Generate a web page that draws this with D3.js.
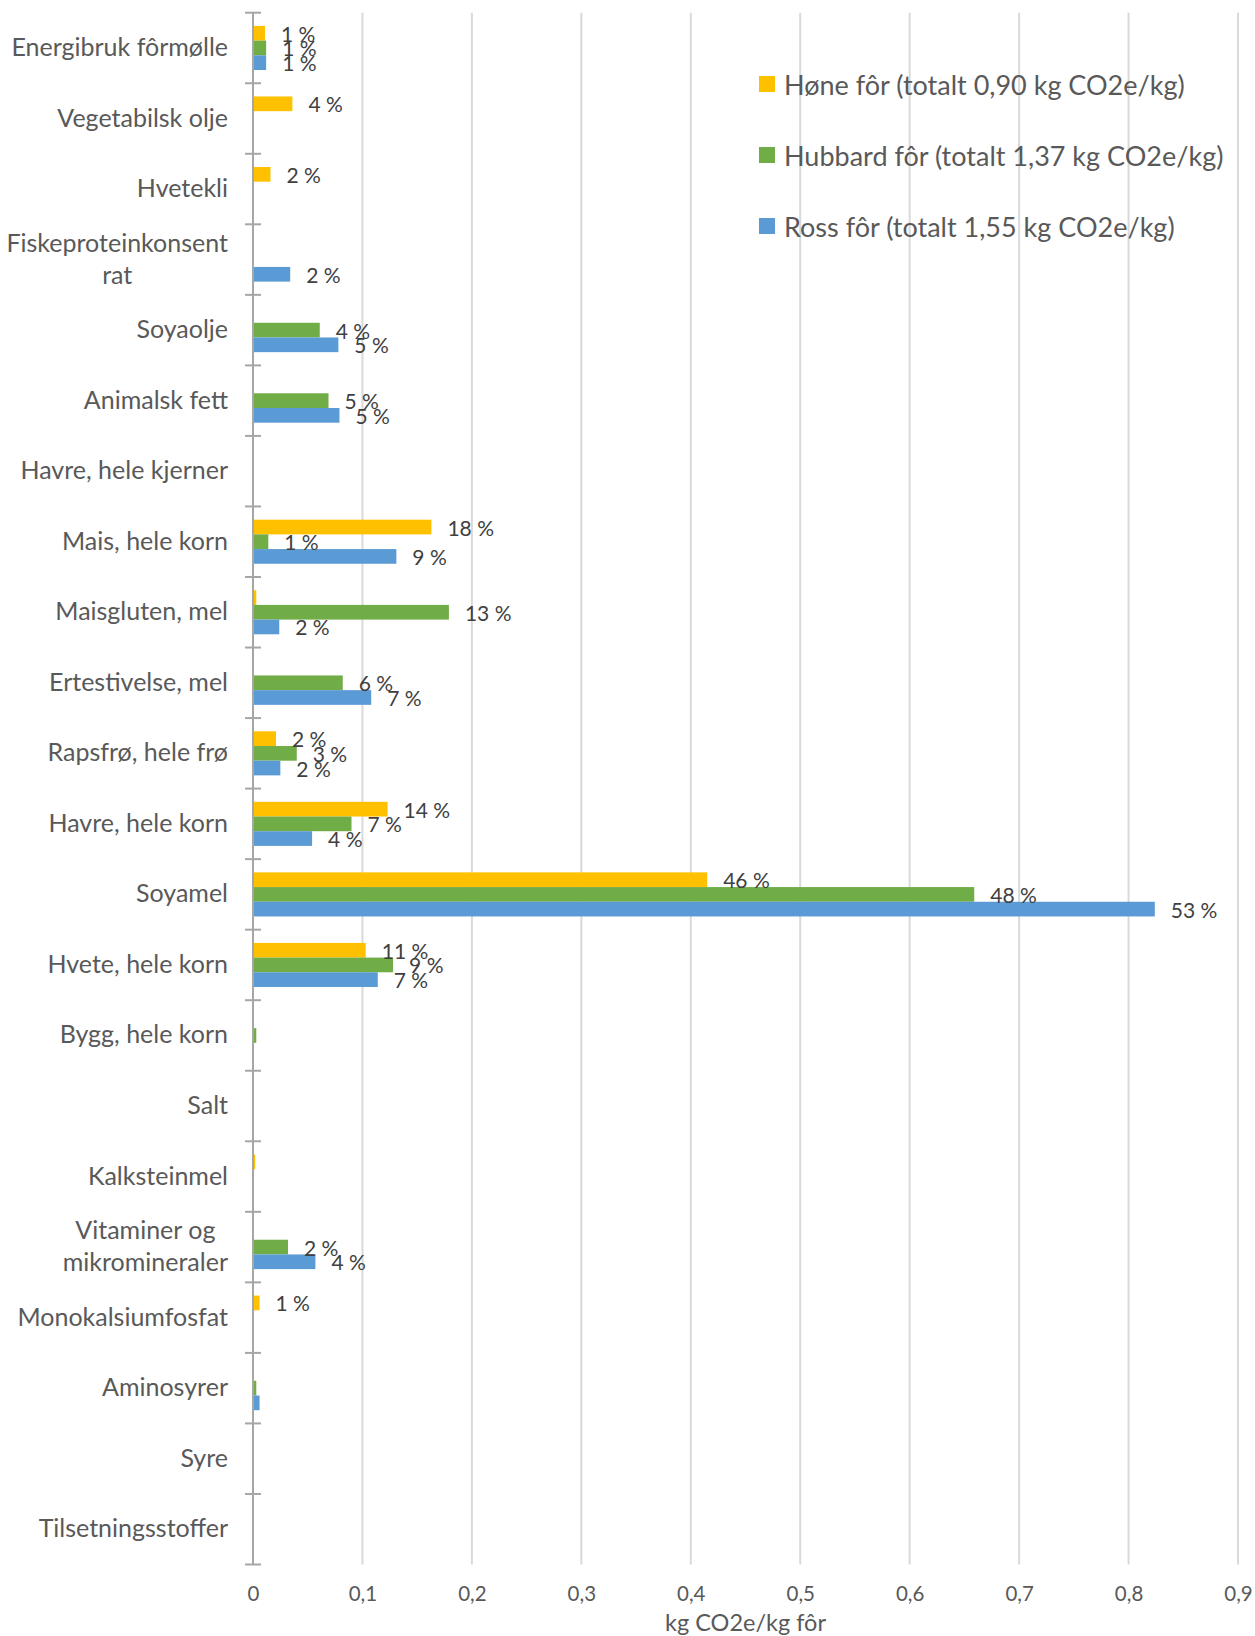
<!DOCTYPE html>
<html>
<head>
<meta charset="utf-8">
<script src="https://cdn.jsdelivr.net/npm/d3@7/dist/d3.min.js"></script>
<style>
  html, body { margin: 0; padding: 0; background: #fff; }
  svg { display: block; font-family: Lato, "Open Sans", sans-serif; }
</style>
</head>
<body>
<svg id="chart" width="1255" height="1636"></svg>
<script>
// Feed ingredients, top to bottom ("\n" marks a wrapped label)
const categories = [
  "Energibruk fôrmølle", "Vegetabilsk olje", "Hvetekli", "Fiskeproteinkonsent\nrat",
  "Soyaolje", "Animalsk fett", "Havre, hele kjerner", "Mais, hele korn",
  "Maisgluten, mel", "Ertestivelse, mel", "Rapsfrø, hele frø", "Havre, hele korn",
  "Soyamel", "Hvete, hele korn", "Bygg, hele korn", "Salt", "Kalksteinmel",
  "Vitaminer og\nmikromineraler", "Monokalsiumfosfat", "Aminosyrer", "Syre", "Tilsetningsstoffer"
];

const seriesNames = [
  "Høne fôr (totalt 0,90 kg CO2e/kg)",
  "Hubbard fôr (totalt 1,37 kg CO2e/kg)",
  "Ross fôr (totalt 1,55 kg CO2e/kg)"
];

// kg CO2e per kg feed, one value per category
const honeValues = [0.011, 0.036, 0.016, 0, 0, 0, 0, 0.163, 0.003, 0, 0.021, 0.123,
  0.415, 0.103, 0, 0, 0.002, 0, 0.006, 0, 0, 0];
const hubbardValues = [0.012, 0, 0, 0, 0.061, 0.069, 0, 0.014, 0.179, 0.082, 0.040, 0.090,
  0.659, 0.128, 0.003, 0, 0, 0.032, 0.0008, 0.003, 0, 0];
const rossValues = [0.012, 0, 0, 0.034, 0.078, 0.079, 0, 0.131, 0.024, 0.108, 0.025, 0.054,
  0.824, 0.114, 0, 0, 0, 0.057, 0.0008, 0.006, 0, 0];

// Share of each feed's total, shown as data labels (null = no label)
const honeShares = [1, 4, 2, null, null, null, null, 18, null, null, 2, 14,
  46, 11, null, null, null, null, 1, null, null, null];
const hubbardShares = [1, null, null, null, 4, 5, null, 1, 13, 6, 3, 7,
  48, 9, null, null, null, 2, null, null, null, null];
const rossShares = [1, null, null, 2, 5, 5, null, 9, 2, 7, 2, 4,
  53, 7, null, null, null, 4, null, null, null, null];

const xTicks = [0, 0.1, 0.2, 0.3, 0.4, 0.5, 0.6, 0.7, 0.8, 0.9];
const xTitle = "kg CO2e/kg fôr";

const colors = ["#FFC000", "#70AD47", "#5B9BD5"];

const series = [
  { name: seriesNames[0], values: honeValues, shares: honeShares, color: colors[0] },
  { name: seriesNames[1], values: hubbardValues, shares: hubbardShares, color: colors[1] },
  { name: seriesNames[2], values: rossValues, shares: rossShares, color: colors[2] }
];

const svg = d3.select("#chart");
const plot = { left: 253, right: 1238, top: 12.7, bottom: 1564.5 };

const x = d3.scaleLinear().domain([0, 0.9]).range([plot.left, plot.right]);
const y = d3.scaleBand().domain(categories).range([plot.top, plot.bottom]).padding(0);
const ySub = d3.scaleBand().domain(d3.range(series.length))
  .range([0, y.bandwidth()]).paddingInner(0).paddingOuter(0.9);

// Vertical gridlines
svg.append("g")
  .selectAll("line")
  .data(xTicks.filter(d => d > 0))
  .join("line")
  .attr("x1", d => x(d)).attr("x2", d => x(d))
  .attr("y1", plot.top).attr("y2", plot.bottom)
  .attr("stroke", "#D9D9D9").attr("stroke-width", 2);

// Value axis tick labels and title
const xAxis = d3.axisBottom(x)
  .tickValues(xTicks)
  .tickSize(0)
  .tickPadding(0)
  .tickFormat(d => d3.format("")(+d.toFixed(1)).replace(".", ","));
const gx = svg.append("g").attr("transform", `translate(0, ${plot.bottom + 22})`).call(xAxis);
gx.select(".domain").remove();
gx.selectAll("text")
  .attr("fill", "#595959").attr("font-size", 20.5)
  .attr("font-family", "Lato, sans-serif")
  .attr("dy", "0.71em");

svg.append("text")
  .attr("x", (plot.left + plot.right) / 2)
  .attr("y", 1622)
  .attr("text-anchor", "middle")
  .attr("dominant-baseline", "central")
  .attr("fill", "#595959").attr("font-size", 23.5)
  .text(xTitle);

// Bars
const groups = svg.append("g").selectAll("g")
  .data(series)
  .join("g")
  .attr("fill", d => d.color);

groups.each(function (s, si) {
  const g = d3.select(this);
  g.selectAll("rect")
    .data(categories.map((c, i) => ({ c, v: s.values[i] })).filter(d => d.v > 0))
    .join("rect")
    .attr("x", x(0))
    .attr("y", d => y(d.c) + ySub(si))
    .attr("width", d => x(d.v) - x(0))
    .attr("height", ySub.bandwidth());
});

// Category axis line with ticks at band boundaries
const axisG = svg.append("g").attr("stroke", "#A6A6A6").attr("stroke-width", 2);
axisG.append("line")
  .attr("x1", x(0)).attr("x2", x(0))
  .attr("y1", plot.top).attr("y2", plot.bottom);
axisG.selectAll("line.tick")
  .data(categories.map(c => y(c)).concat([plot.bottom]))
  .join("line")
  .attr("class", "tick")
  .attr("x1", x(0) - 8).attr("x2", x(0) + 8)
  .attr("y1", d => d).attr("y2", d => d);

// Data labels
series.forEach((s, si) => {
  svg.append("g").selectAll("text")
    .data(categories.map((c, i) => ({ c, v: s.values[i], p: s.shares[i] })).filter(d => d.p != null))
    .join("text")
    .attr("x", d => x(d.v) + 16)
    .attr("y", d => y(d.c) + ySub(si) + ySub.bandwidth() / 2)
    .attr("dominant-baseline", "central")
    .attr("fill", "#404040").attr("font-size", 21)
    .text(d => `${d.p} %`);
});

// Category labels (wrapped lines are centred on each other, block right-aligned)
const labelRight = 228;
const lineH = 32;
categories.forEach(c => {
  const lines = c.split("\n");
  const cy = y(c) + y.bandwidth() / 2 - 2;
  const t = svg.append("text")
    .attr("fill", "#595959").attr("font-size", 25)
    .attr("text-anchor", lines.length > 1 ? "middle" : "end");
  const spans = lines.map((ln, i) => t.append("tspan")
    .attr("dominant-baseline", "central")
    .attr("y", cy + (i - (lines.length - 1) / 2) * lineH)
    .text(ln));
  if (lines.length > 1) {
    const w = d3.max(spans, sp => sp.node().getComputedTextLength());
    spans.forEach(sp => sp.attr("x", labelRight - w / 2));
  } else {
    spans.forEach(sp => sp.attr("x", labelRight));
  }
});

// Legend
const legend = svg.append("g");
series.forEach((s, i) => {
  const cy = 84 + i * 71;
  legend.append("rect")
    .attr("x", 759).attr("y", cy - 8).attr("width", 16).attr("height", 16)
    .attr("fill", s.color);
  legend.append("text")
    .attr("x", 784).attr("y", cy)
    .attr("dominant-baseline", "central")
    .attr("fill", "#595959").attr("font-size", 27)
    .text(s.name);
});
</script>
</body>
</html>
